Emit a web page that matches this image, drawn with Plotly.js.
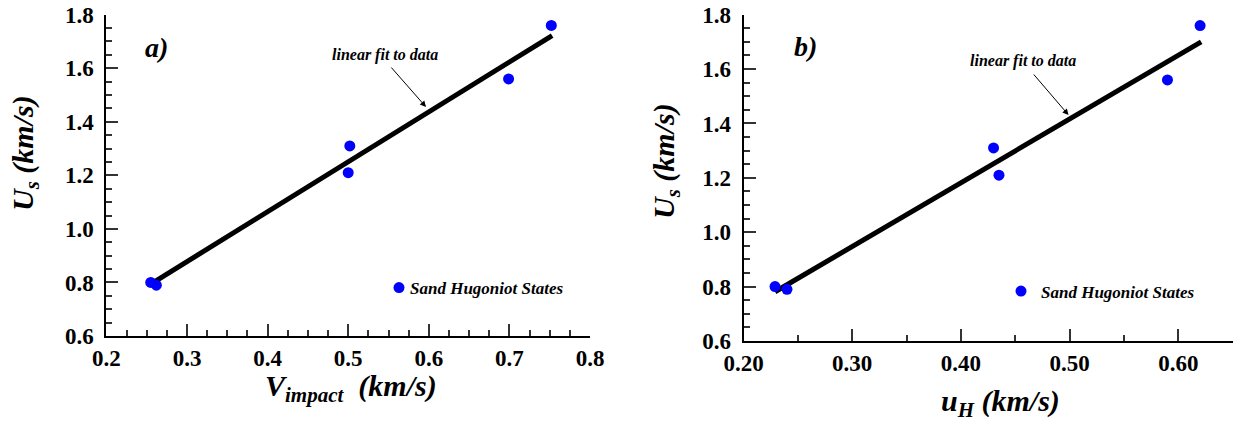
<!DOCTYPE html>
<html>
<head>
<meta charset="utf-8">
<script src="https://cdn.plot.ly/plotly-3.0.1.min.js"></script>
</head>
<body style="margin:0">
<div id="chart"></div>
<script>
// Shock velocity vs impact velocity (panel a) and vs particle velocity (panel b)
const vImpact = [0.255, 0.262, 0.502, 0.500, 0.699, 0.752];
const usA     = [0.80, 0.79, 1.31, 1.21, 1.56, 1.76];
const uH      = [0.229, 0.240, 0.430, 0.435, 0.590, 0.620];
const usB     = [0.80, 0.79, 1.31, 1.21, 1.56, 1.76];

// Linear fit end points for each panel
const fitAx = [0.255, 0.753];
const fitAy = [0.794, 1.722];
const fitBx = [0.229, 0.621];
const fitBy = [0.781, 1.700];

const seriesName = 'Sand Hugoniot States';
const fitLabel = 'linear fit to data';

const W = 1243, H = 421;
const px = x => x / W;
const py = y => 1 - y / H;

const tickFont = { family: 'Liberation Serif', size: 23, weight: 'bold', color: '#000' };
const italicBold = (size) => ({ family: 'Liberation Serif', size: size, weight: 'bold', style: 'italic', color: '#000' });

function axisBase(extra) {
  return Object.assign({
    showline: true, linecolor: '#000', linewidth: 2,
    mirror: false, showgrid: false, zeroline: false,
    ticks: 'inside', ticklen: 12, tickwidth: 1.5, tickcolor: '#333',
    tickfont: tickFont, automargin: false, fixedrange: true
  }, extra);
}

const traces = [
  { x: fitAx, y: fitAy, xaxis: 'x', yaxis: 'y', mode: 'lines',
    line: { color: '#000', width: 5 }, showlegend: false, hoverinfo: 'skip' },
  { x: vImpact, y: usA, xaxis: 'x', yaxis: 'y', mode: 'markers', name: seriesName,
    marker: { color: '#0000ff', size: 11 }, legend: 'legend', cliponaxis: false },
  { x: fitBx, y: fitBy, xaxis: 'x2', yaxis: 'y2', mode: 'lines',
    line: { color: '#000', width: 5 }, showlegend: false, hoverinfo: 'skip' },
  { x: uH, y: usB, xaxis: 'x2', yaxis: 'y2', mode: 'markers', name: seriesName,
    marker: { color: '#0000ff', size: 11 }, legend: 'legend2', cliponaxis: false }
];

const legendStyle = {
  font: italicBold(17), bgcolor: 'rgba(0,0,0,0)', borderwidth: 0,
  xanchor: 'left', yanchor: 'middle', itemwidth: 30
};

const layout = {
  width: W, height: H,
  margin: { l: 0, r: 0, t: 0, b: 0, pad: 0 },
  xaxis: axisBase({ domain: [px(106.4), px(590)], range: [0.2, 0.8], dtick: 0.1, tick0: 0.2,
    tickformat: '.1f', ticklabelstandoff: 0,
    minor: { dtick: 0.025, ticks: 'inside', ticklen: 6, tickwidth: 1.5, tickcolor: '#333' },
    anchor: 'y' }),
  yaxis: axisBase({ domain: [py(336), py(14.7)], range: [0.6, 1.8], dtick: 0.2, tick0: 0.6,
    tickformat: '.1f', ticklabelstandoff: 6,
    minor: { dtick: 0.05, ticks: 'inside', ticklen: 6, tickwidth: 1.5, tickcolor: '#333' },
    anchor: 'x' }),
  xaxis2: axisBase({ domain: [px(743.5), px(1232.7)], range: [0.2, 0.65], dtick: 0.1, tick0: 0.2,
    tickformat: '.2f', ticklabelstandoff: 0,
    minor: { dtick: 0.05, ticks: 'inside', ticklen: 6, tickwidth: 1.5, tickcolor: '#333' },
    anchor: 'y2' }),
  yaxis2: axisBase({ domain: [py(341), py(14.7)], range: [0.6, 1.8], dtick: 0.2, tick0: 0.6,
    tickformat: '.1f', ticklabelstandoff: 6,
    minor: { dtick: 0.05, ticks: 'inside', ticklen: 6, tickwidth: 1.5, tickcolor: '#333' },
    anchor: 'x2' }),
  legend: Object.assign({ x: px(370), y: py(288) }, legendStyle),
  legend2: Object.assign({ x: px(1001), y: py(291.5) }, legendStyle),
  annotations: [
    // panel letters
    { xref: 'paper', yref: 'paper', x: px(156), y: py(47), text: 'a)', showarrow: false,
      font: italicBold(28), xanchor: 'center', yanchor: 'middle' },
    { xref: 'paper', yref: 'paper', x: px(805), y: py(46), text: 'b)', showarrow: false,
      font: italicBold(28), xanchor: 'center', yanchor: 'middle' },
    // fit labels
    { xref: 'paper', yref: 'paper', x: px(385), y: py(55), text: fitLabel, showarrow: false,
      font: italicBold(16), xanchor: 'center', yanchor: 'middle' },
    { xref: 'paper', yref: 'paper', x: px(1023.5), y: py(61), text: fitLabel, showarrow: false,
      font: italicBold(16), xanchor: 'center', yanchor: 'middle' },
    // arrows pointing at the fit lines
    { xref: 'paper', yref: 'paper', x: px(426), y: py(107), text: '', showarrow: true,
      ax: -36, ay: -41, arrowhead: 2, arrowsize: 1.2, arrowwidth: 1, arrowcolor: '#000' },
    { xref: 'paper', yref: 'paper', x: px(1068.5), y: py(115), text: '', showarrow: true,
      ax: -36, ay: -42, arrowhead: 2, arrowsize: 1.2, arrowwidth: 1, arrowcolor: '#000' },
    // axis titles
    { xref: 'paper', yref: 'paper', x: px(25), y: py(153), text: 'U<sub>s</sub> (km/s)', showarrow: false,
      textangle: -90, font: italicBold(30), xanchor: 'center', yanchor: 'middle' },
    { xref: 'paper', yref: 'paper', x: px(666), y: py(161), text: 'U<sub>s</sub> (km/s)', showarrow: false,
      textangle: -90, font: italicBold(30), xanchor: 'center', yanchor: 'middle' },
    { xref: 'paper', yref: 'paper', x: px(351), y: py(388), text: 'V<sub>impact</sub>  (km/s)', showarrow: false,
      font: italicBold(30), xanchor: 'center', yanchor: 'middle' },
    { xref: 'paper', yref: 'paper', x: px(1000), y: py(403), text: 'u<sub>H</sub> (km/s)', showarrow: false,
      font: italicBold(30), xanchor: 'center', yanchor: 'middle' }
  ],
  showlegend: true
};

Plotly.newPlot('chart', traces, layout, { displayModeBar: false }).then(gd => {
  // pull the legend symbols closer to their labels
  gd.querySelectorAll('.legend .legendpoints').forEach(g => {
    g.setAttribute('transform', 'translate(9,0)');
  });
});
</script>
</body>
</html>
